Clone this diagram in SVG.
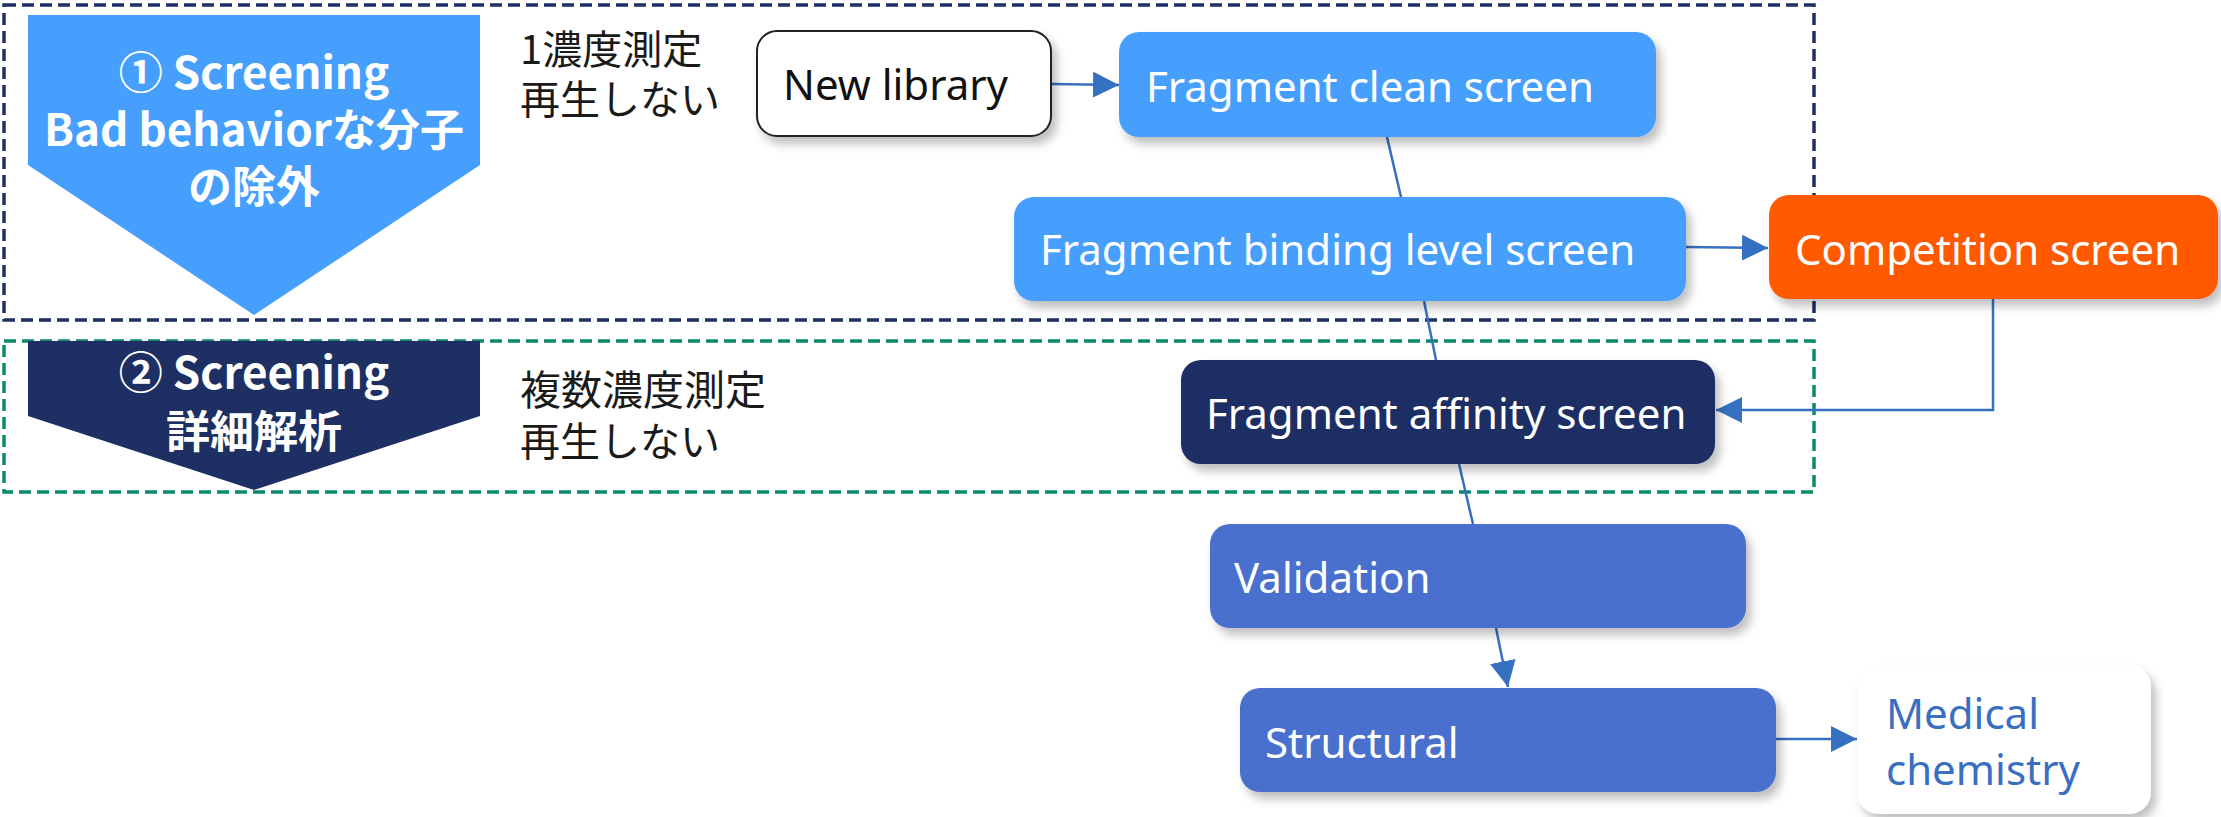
<svg xmlns="http://www.w3.org/2000/svg" width="2221" height="817" viewBox="0 0 2221 817">
<defs>
<style>
.lbl{font-family:"Noto Sans","Liberation Sans",sans-serif;font-size:42px;fill:#ffffff}
.jp{font-family:"Noto Sans CJK JP","Noto Sans",sans-serif;font-size:40px;fill:#1a1a1a}
.head{font-family:"Noto Sans CJK JP","Noto Sans",sans-serif;font-size:44px;font-weight:bold;fill:#ffffff}
.edge{stroke:#3670c0;stroke-width:2.5;fill:none}
</style>
<filter id="sh" x="-10%" y="-20%" width="125%" height="150%">
<feDropShadow dx="5" dy="7" stdDeviation="5" flood-color="#000" flood-opacity="0.25"/>
</filter>
<marker id="arr" viewBox="0 0 26 26" refX="26" refY="13" markerWidth="26" markerHeight="26" markerUnits="userSpaceOnUse" orient="auto">
<path d="M0,0 L26,13 L0,26 z" fill="#3670c0"/>
</marker>
</defs>
<rect width="2221" height="817" fill="#ffffff"/>

<g id="regions">
<rect x="4" y="5" width="1810" height="315" fill="none" stroke="#1e2f64" stroke-width="3.5" stroke-dasharray="12 6"/>
<rect x="4" y="341" width="1810" height="151" fill="none" stroke="#0a8a6a" stroke-width="3.5" stroke-dasharray="12 6"/>
</g>

<g id="stage1">
<polygon points="28,15 480,15 480,165 254,315 28,165" fill="#479ffd"/>
<text class="head" x="254" y="89" text-anchor="middle">① Screening</text>
<text class="head" x="254" y="146" text-anchor="middle">Bad behaviorな分子</text>
<text class="head" x="254" y="203" text-anchor="middle">の除外</text>
</g>
<g id="stage2">
<polygon points="28,341 480,341 480,416 254,490 28,416" fill="#1d2f63"/>
<text class="head" x="254" y="389" text-anchor="middle">② Screening</text>
<text class="head" x="254" y="448" text-anchor="middle">詳細解析</text>
</g>
<g id="note1">
<text class="jp" x="520" y="64">1濃度測定</text>
<text class="jp" x="520" y="114">再生しない</text>
</g>
<g id="note2">
<text class="jp" x="520" y="405" style="font-size:41px">複数濃度測定</text>
<text class="jp" x="520" y="456">再生しない</text>
</g>

<g id="connectors">
<line class="edge" x1="1051" y1="84" x2="1119" y2="85" marker-end="url(#arr)"/>
<line class="edge" x1="1387" y1="137" x2="1401" y2="197"/>
<line class="edge" x1="1424" y1="301" x2="1436" y2="360"/>
<line class="edge" x1="1686" y1="247" x2="1768" y2="248" marker-end="url(#arr)"/>
<polyline class="edge" points="1993,299 1993,410 1716,410" marker-end="url(#arr)"/>
<line class="edge" x1="1459" y1="464" x2="1473" y2="524"/>
<line class="edge" x1="1496" y1="628" x2="1508" y2="687" marker-end="url(#arr)"/>
<line class="edge" x1="1776" y1="739" x2="1857" y2="739" marker-end="url(#arr)"/>
</g>

<g id="new-library">
<rect x="757" y="31" width="294" height="105" rx="20" fill="#ffffff" stroke="#222" stroke-width="2" filter="url(#sh)"/>
<text class="lbl" x="783" y="100" style="fill:#111">New library</text>
</g>
<g id="fragment-clean">
<rect x="1119" y="32" width="537" height="105" rx="20" fill="#479ffd" filter="url(#sh)"/>
<text class="lbl" x="1146" y="102">Fragment clean screen</text>
</g>
<g id="fragment-binding">
<rect x="1014" y="197" width="672" height="104" rx="20" fill="#479ffd" filter="url(#sh)"/>
<text class="lbl" x="1040" y="265">Fragment binding level screen</text>
</g>
<g id="competition">
<rect x="1769" y="195" width="449" height="104" rx="20" fill="#ff5a00" filter="url(#sh)"/>
<text class="lbl" x="1795" y="265">Competition screen</text>
</g>
<g id="fragment-affinity">
<rect x="1181" y="360" width="534" height="104" rx="20" fill="#1e2f64" filter="url(#sh)"/>
<text class="lbl" x="1206" y="429">Fragment affinity screen</text>
</g>
<g id="validation">
<rect x="1210" y="524" width="536" height="104" rx="20" fill="#4a70cd" filter="url(#sh)"/>
<text class="lbl" x="1234" y="593">Validation</text>
</g>
<g id="structural">
<rect x="1240" y="688" width="536" height="104" rx="20" fill="#4a70cd" filter="url(#sh)"/>
<text class="lbl" x="1265" y="758">Structural</text>
</g>
<g id="medical-chemistry">
<rect x="1857" y="665" width="294" height="149" rx="22" fill="#ffffff" filter="url(#sh)"/>
<text class="lbl" x="1886" y="729" style="fill:#3a6fc0">Medical</text>
<text class="lbl" x="1886" y="785" style="fill:#3a6fc0">chemistry</text>
</g>
</svg>
